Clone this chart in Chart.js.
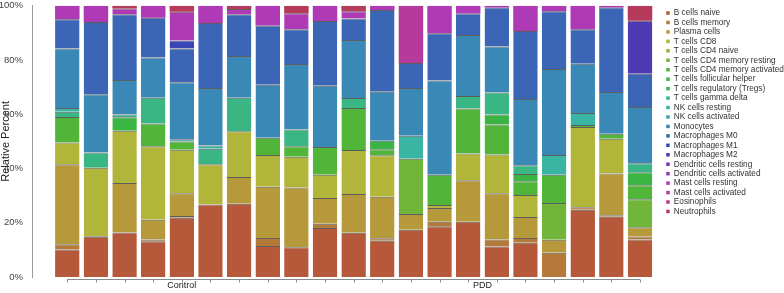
<!DOCTYPE html>
<html>
<head>
<meta charset="utf-8">
<script src="https://cdn.jsdelivr.net/npm/chart.js@4"></script>
<style>
  html, body { margin: 0; padding: 0; background: #fff; }
  #wrap { width: 784px; height: 293px; position: relative; }
</style>
</head>
<body>
<div id="wrap"><canvas id="immune-chart"></canvas></div>
<script>
// samples in plotting order, and the group each one belongs to
const sampleIds = [1, 2, 3, 4, 5, 6, 7, 8, 9, 10, 11, 12, 13, 14, 15, 16, 17, 18, 19, 20, 21];
const sampleGroup = ["Control", "Control", "Control", "Control", "Control", "Control", "Control", "Control", "Control",
    "PDD", "PDD", "PDD", "PDD", "PDD", "PDD", "PDD", "PDD", "PDD", "PDD", "PDD", "PDD"];
const groupNames = ["Control", "PDD"];

const cellTypes = ["B cells naive", "B cells memory", "Plasma cells", "T cells CD8", "T cells CD4 naive",
    "T cells CD4 memory resting", "T cells CD4 memory activated", "T cells follicular helper",
    "T cells regulatory (Tregs)", "T cells gamma delta", "NK cells resting", "NK cells activated",
    "Monocytes", "Macrophages M0", "Macrophages M1", "Macrophages M2", "Dendritic cells resting",
    "Dendritic cells activated", "Mast cells resting", "Mast cells activated", "Eosinophils", "Neutrophils"];

const cellColours = ["#b5593a", "#b5793a", "#b5993a", "#b1b53a", "#91b53a", "#71b53a", "#51b53a", "#3ab543",
    "#3ab563", "#3ab584", "#3ab5a4", "#3aa6b5", "#3a88b6", "#3a66b5", "#3a46b5", "#4e3ab5", "#6e3ab5",
    "#8e3ab5", "#ae3ab5", "#b53a9c", "#b53a7c", "#b53a5b"];

// relative percent per sample (one value per bar)
const bCellsNaive      = [10.1, 14.8, 16.4, 13.2, 21.8, 26.7, 27.0, 11.4, 11.0, 18.1, 16.3, 13.4, 17.4, 18.7, 20.4, 11.2, 12.6, 0, 24.8, 22.2, 13.8];
const bCellsMemory     = [2.0, 0.3, 0, 0.6, 0.7, 0, 0, 3.0, 0, 1.5, 0, 0.9, 0, 1.7, 0, 2.6, 1.8, 8.9, 0.9, 0.6, 1.1];
const plasmaCells      = [29.5, 0, 18.3, 7.3, 8.4, 0, 9.9, 18.9, 22.0, 9.5, 14.3, 15.3, 5.8, 5.0, 15.3, 17.1, 7.7, 4.8, 0, 15.4, 3.4];
const tCellsCD8        = [8.0, 25.2, 19.2, 27.1, 16.0, 14.9, 16.8, 11.7, 11.3, 8.6, 16.2, 15.3, 0, 1.1, 9.8, 14.3, 8.1, 0, 29.6, 12.8, 0];
const cd4Naive         = [0, 0, 0, 0, 0, 0, 0, 0, 0, 0, 0, 0, 0, 0, 0, 0, 0, 0, 0, 0, 0];
const cd4MemResting    = [0, 0, 0, 0, 0, 0, 0, 0, 0, 0, 0, 0, 20.4, 0, 0, 0, 0, 13.6, 0, 0, 10.4];
const cd4MemActivated  = [9.4, 0, 0, 8.4, 3.1, 0, 0, 6.3, 3.9, 10.2, 15.5, 2.2, 0, 11.2, 16.6, 11.0, 5.1, 10.4, 0.7, 1.8, 5.1];
const follicularHelper = [0, 0, 5.0, 0, 0, 0, 0, 0, 0, 0, 0, 3.1, 0, 0, 0, 3.7, 2.7, 0, 0, 0, 4.8];
const tregs            = [0, 0, 0, 0, 0, 0, 0, 0, 0, 0, 0, 0, 0, 0, 0, 0, 0, 0, 0, 0, 0];
const gammaDelta       = [1.9, 5.6, 1.0, 9.5, 0, 5.7, 12.4, 0, 6.2, 0, 3.7, 0, 0, 0, 4.6, 8.1, 3.2, 0, 0, 0, 3.3];
const nkResting        = [1.4, 0, 0, 0, 0, 1.2, 0, 0, 0, 0, 0, 0, 8.5, 0, 0, 0, 0, 7.3, 4.5, 0, 0];
const nkActivated      = [0, 0, 0, 0, 0.8, 0, 0, 0, 0, 0, 0, 0, 0, 0, 0, 0, 0, 0, 0, 0, 0];
const monocytes        = [21.9, 21.5, 12.7, 14.8, 21.0, 21.2, 15.4, 19.6, 24.1, 22.6, 21.4, 18.1, 17.6, 34.7, 22.5, 17.0, 24.4, 31.7, 18.1, 15.4, 20.8];
const macrophagesM0    = [10.8, 26.6, 24.3, 14.7, 12.4, 23.9, 15.4, 21.8, 12.8, 23.9, 7.9, 30.1, 9.2, 17.5, 7.9, 14.4, 25.1, 21.3, 12.7, 31.2, 12.2];
const macrophagesM1    = [0, 0, 0, 0, 3.0, 0, 0, 0, 0, 0, 0, 0, 0, 0, 0, 0, 0, 0, 0, 0, 0];
const macrophagesM2    = [0, 0, 0, 0, 0, 0, 0, 0, 0, 0, 0, 0, 0, 0, 0, 0, 0, 0, 0, 0, 19.6];
const dcResting        = [0, 0, 0, 0, 0, 0, 0, 0, 0, 0, 0, 0, 0, 0, 0, 0, 0, 0, 0, 0, 0];
const dcActivated      = [0, 0, 0, 0, 0, 0, 0, 0, 0, 0, 0, 0, 0, 0, 0, 0, 0, 0, 0, 0, 0];
const mastResting      = [5.0, 6.0, 2.1, 4.4, 10.6, 6.4, 1.9, 7.3, 5.9, 5.6, 2.7, 1.6, 0, 10.1, 2.9, 0.6, 9.3, 2.0, 8.7, 0.6, 0];
const mastActivated    = [0, 0, 0, 0, 0, 0, 0, 0, 0, 0, 0, 0, 21.1, 0, 0, 0, 0, 0, 0, 0, 0];
const eosinophils      = [0, 0, 0, 0, 0, 0, 0, 0, 0, 0, 0, 0, 0, 0, 0, 0, 0, 0, 0, 0, 0];
const neutrophils      = [0, 0, 1.0, 0, 2.2, 0, 1.2, 0, 2.8, 0, 2.0, 0, 0, 0, 0, 0, 0, 0, 0, 0, 5.5];

const yTicks = [0, 20, 40, 60, 80, 100];

const seriesValues = [bCellsNaive, bCellsMemory, plasmaCells, tCellsCD8, cd4Naive, cd4MemResting,
    cd4MemActivated, follicularHelper, tregs, gammaDelta, nkResting, nkActivated, monocytes,
    macrophagesM0, macrophagesM1, macrophagesM2, dcResting, dcActivated, mastResting, mastActivated,
    eosinophils, neutrophils];

Chart.defaults.font.family = '"Liberation Sans", Arial, sans-serif';

// thin dark divider on top of a segment, but not on the topmost one of a bar
function segmentBorder(ctx) {
    const above = seriesValues.slice(ctx.datasetIndex + 1).some(s => s[ctx.dataIndex] > 0);
    return {top: above ? 1 : 0, right: 0, bottom: 0, left: 0};
}

let datasets = [];
for (let i = 0; i < cellTypes.length; i++) {
    datasets.push({
        label: cellTypes[i],
        data: seriesValues[i],
        backgroundColor: cellColours[i],
        borderColor: "rgba(25,25,25,0.7)",
        borderWidth: segmentBorder,
        borderSkipped: false,
        barPercentage: 0.855,
        categoryPercentage: 1
    });
}

// bottom bracket line with a tick per sample and the group names under it
const groupAxis = {
    id: "groupAxis",
    afterDraw(chart) {
        const {ctx, chartArea} = chart;
        const x = chart.scales.x;
        const y0 = Math.round(chartArea.bottom + 2) + 0.5;
        ctx.save();
        ctx.strokeStyle = "#8a8a8a";
        ctx.lineWidth = 1;
        ctx.beginPath();
        ctx.moveTo(x.getPixelForValue(sampleIds[0]), y0);
        ctx.lineTo(x.getPixelForValue(sampleIds[sampleIds.length - 1]), y0);
        sampleIds.forEach(id => {
            const px = Math.round(x.getPixelForValue(id)) + 0.5;
            ctx.moveTo(px, y0);
            ctx.lineTo(px, y0 + 3);
        });
        ctx.stroke();

        ctx.fillStyle = "#222";
        ctx.font = '9px "Liberation Sans", Arial, sans-serif';
        ctx.textAlign = "center";
        ctx.textBaseline = "middle";
        groupNames.forEach(g => {
            const ids = sampleIds.filter((id, i) => sampleGroup[i] === g);
            const mid = (x.getPixelForValue(ids[0]) + x.getPixelForValue(ids[ids.length - 1])) / 2;
            ctx.fillText(g, mid, chartArea.bottom + 9);
        });
        ctx.restore();
    }
};

const config = {
    type: "bar",
    data: {
        labels: sampleIds,
        datasets: datasets
    },
    options: {
        responsive: true,
        maintainAspectRatio: false,
        animation: false,
        layout: {
            padding: {top: 4, bottom: 16, left: 0, right: 0}
        },
        plugins: {
            tooltip: {enabled: false},
            legend: {
                position: "right",
                align: "start",
                maxWidth: 119,
                title: {
                    display: true,
                    text: "",
                    font: {size: 1, lineHeight: 1},
                    padding: {top: 0, bottom: 2.7}
                },
                labels: {
                    boxWidth: 3.5,
                    boxHeight: 3.5,
                    padding: 1.2,
                    color: "#333",
                    font: {size: 8.25},
                    generateLabels(chart) {
                        const items = Chart.defaults.plugins.legend.labels.generateLabels(chart);
                        items.forEach(it => { it.lineWidth = 0; it.strokeStyle = it.fillStyle; });
                        return items;
                    }
                }
            }
        },
        scales: {
            x: {
                type: "linear",
                display: false,
                stacked: true,
                offset: false,
                min: -0.233,      // leaves the gap between y axis and first bar
                max: 21.873,
                afterBuildTicks: scale => {
                    scale.ticks = sampleIds.map(v => ({value: v}));
                }
            },
            y: {
                stacked: true,
                min: 0,
                max: 100,
                afterBuildTicks: scale => {
                    scale.ticks = yTicks.map(v => ({value: v}));
                },
                afterFit: scale => { scale.width = 32; },
                grid: {display: false},
                border: {display: true, color: "#9a9a9a", width: 1},
                ticks: {
                    padding: 1,
                    color: "#444",
                    font: {size: 9.5, lineHeight: 1},
                    callback: v => v + "%"
                },
                title: {
                    display: true,
                    text: "Relative Percent",
                    color: "#222",
                    font: {size: 11, lineHeight: 1},
                    padding: 0
                }
            }
        }
    },
    plugins: [groupAxis]
};

new Chart(document.getElementById("immune-chart"), config);
</script>
</body>
</html>
